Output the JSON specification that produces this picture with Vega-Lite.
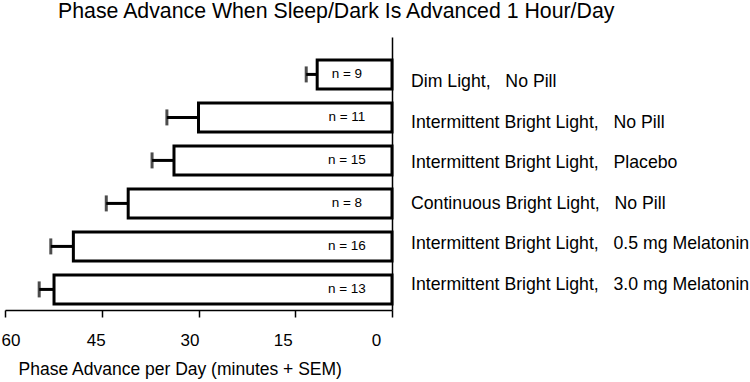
{
  "$schema": "https://vega.github.io/schema/vega-lite/v6.json",
  "autosize": "none",
  "width": 387,
  "height": 273,
  "padding": {"left": 5, "top": 37, "right": 358, "bottom": 72},
  "background": "white",
  "config": {
    "view": {"stroke": null},
    "font": "Liberation Sans",
    "text": {"font": "Liberation Sans"}
  },
  "title": {
    "text": "Phase Advance When Sleep/Dark Is Advanced 1 Hour/Day",
    "anchor": "start",
    "frame": "group",
    "dx": 53,
    "offset": 15,
    "fontSize": 21.3,
    "fontWeight": "normal",
    "font": "Liberation Sans",
    "color": "black"
  },
  "data": {
    "values": [
      {"group": "Dim Light,\u00a0\u00a0 No Pill", "advance": 11.6, "sem": 1.7, "n": "n = 9"},
      {"group": "Intermittent Bright Light,\u00a0\u00a0 No Pill", "advance": 30.0, "sem": 4.9, "n": "n = 11"},
      {"group": "Intermittent Bright Light,\u00a0\u00a0 Placebo", "advance": 33.8, "sem": 3.4, "n": "n = 15"},
      {"group": "Continuous Bright Light,\u00a0\u00a0 No Pill", "advance": 40.9, "sem": 3.4, "n": "n = 8"},
      {"group": "Intermittent Bright Light,\u00a0\u00a0 0.5 mg Melatonin", "advance": 49.4, "sem": 3.5, "n": "n = 16"},
      {"group": "Intermittent Bright Light,\u00a0\u00a0 3.0 mg Melatonin", "advance": 52.4, "sem": 2.3, "n": "n = 13"}
    ]
  },
  "layer": [
    {
      "layer": [
        {
          "mark": {"type": "bar", "fill": "white", "stroke": "black", "strokeWidth": 3},
          "encoding": {
            "y": {
              "field": "group", "type": "nominal", "sort": null,
              "scale": {"paddingInner": 0.326, "paddingOuter": 0.3375, "align": 0.79},
              "axis": {"orient": "right", "title": null, "labels": false, "ticks": false, "domainColor": "black", "domainWidth": 1.5, "grid": false}
            },
            "x": {
              "field": "advance", "type": "quantitative",
              "scale": {"domain": [0, 60], "reverse": true, "nice": false},
              "axis": {
                "values": [0, 15, 30, 45, 60],
                "grid": false,
                "domainColor": "black", "domainWidth": 1.5,
                "tickColor": "black", "tickWidth": 1.5, "tickSize": 7,
                "labelFont": "Liberation Sans", "labelFontSize": 17, "labelColor": "black", "labelPadding": 15,
                "labelFlush": false,
                "labelOffset": {
                  "condition": [
                    {"test": "datum.value == 60", "value": 5.5},
                    {"test": "datum.value == 45", "value": -6},
                    {"test": "datum.value == 30", "value": -9},
                    {"test": "datum.value == 15", "value": -12.5}
                  ],
                  "value": -16
                },
                "title": "Phase Advance per Day (minutes + SEM)",
                "titleFont": "Liberation Sans", "titleFontSize": 17.5, "titleFontWeight": "normal", "titleColor": "black",
                "titleAnchor": "start", "titleAlign": "left", "titleX": 13, "titleY": 64, "titleBaseline": "alphabetic"
              }
            }
          }
        },
        {
          "mark": {"type": "rule", "stroke": "black", "strokeWidth": 3},
          "transform": [{"calculate": "datum.advance + datum.sem", "as": "upper"}],
          "encoding": {
            "y": {"field": "group", "type": "nominal", "sort": null},
            "x": {"field": "advance", "type": "quantitative"},
            "x2": {"field": "upper"}
          }
        },
        {
          "mark": {"type": "tick", "color": "black", "thickness": 3, "size": 16, "orient": "vertical"},
          "transform": [{"calculate": "datum.advance + datum.sem", "as": "upper"}],
          "encoding": {
            "y": {"field": "group", "type": "nominal", "sort": null},
            "x": {"field": "upper", "type": "quantitative"}
          }
        },
        {
          "mark": {"type": "text", "font": "Liberation Sans", "fontSize": 13.5, "color": "black", "align": "center", "baseline": "middle"},
          "encoding": {
            "y": {"field": "group", "type": "nominal", "sort": null},
            "x": {"datum": 7},
            "text": {"field": "n"}
          }
        }
      ]
    },
    {
      "mark": {"type": "text", "font": "Liberation Sans", "fontSize": 17.7, "color": "black", "align": "left", "baseline": "middle", "dx": 19},
      "encoding": {
        "y": {"field": "group", "type": "nominal", "sort": null, "scale": {"type": "point", "range": [45, 248], "padding": 0}, "axis": null},
        "x": {"datum": 0},
        "text": {"field": "group"}
      }
    }
  ],
  "resolve": {"scale": {"y": "independent"}}
}
